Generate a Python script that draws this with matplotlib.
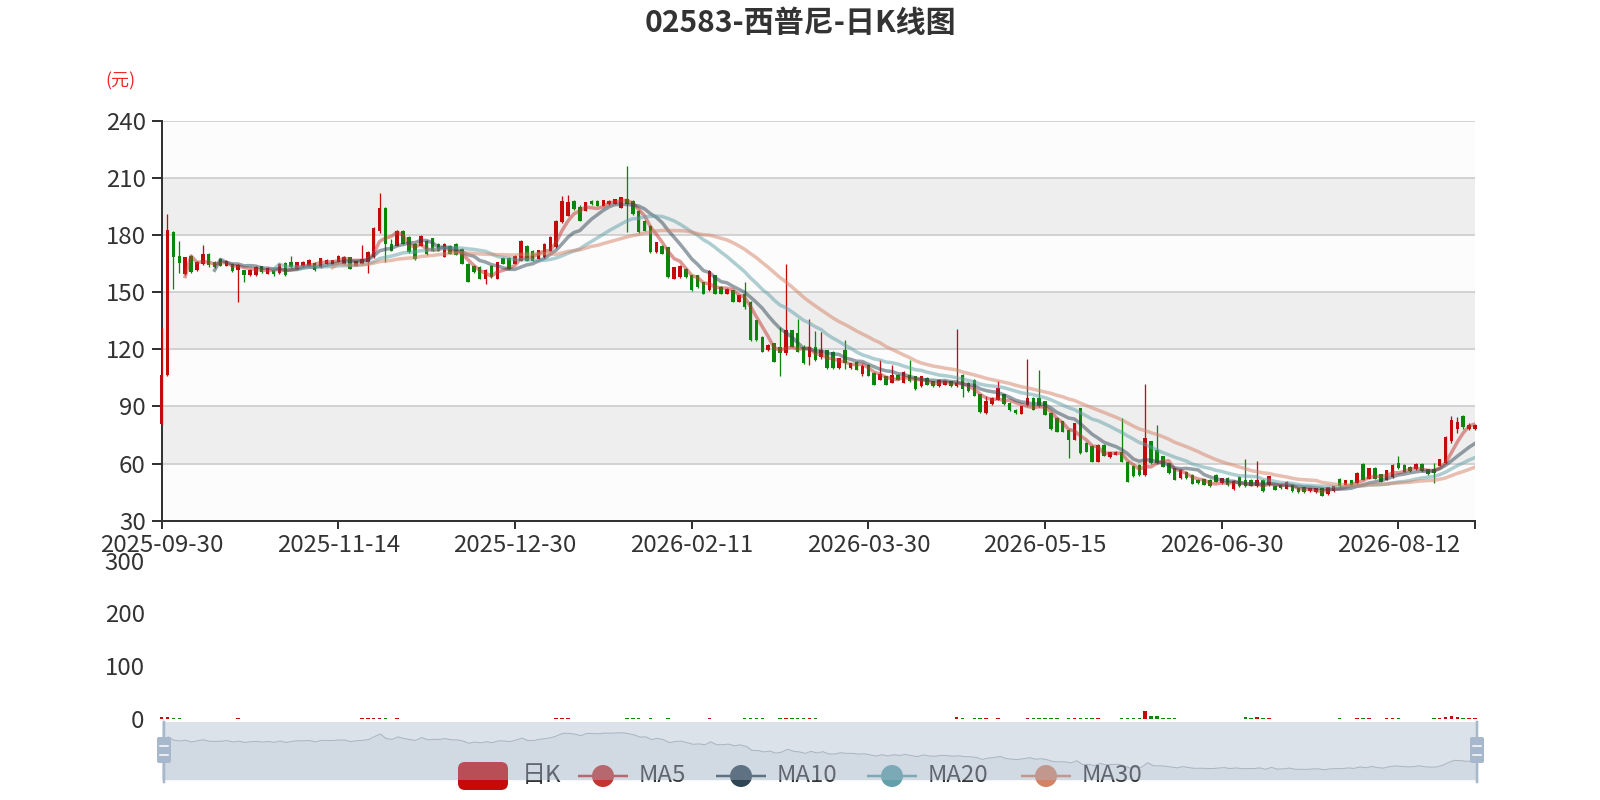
import matplotlib.pyplot as plt
import numpy as np
import pandas as pd
from matplotlib.patches import FancyBboxPatch, Circle

plt.rcParams['font.family'] = ['Noto Sans CJK SC', 'DejaVu Sans']

# 日K数据 (每行10个交易日)
opens = [
    81, 106.7, 181.7, 169, 159.6, 169, 161.3, 164.8, 170, 165.7,
    167.4, 163.9, 164.8, 161.8, 161.3, 158.7, 158.7, 163.4, 159.6, 161.3,
    159.9, 165.1, 165.5, 162.2, 163.6, 163.9, 165.3, 163, 164.8, 164.8,
    165.7, 164.8, 168.3, 163.9, 164.8, 165.5, 168.3, 182.2, 194.3, 175.2,
    174.3, 182.2, 179.1, 175.2, 174.3, 177, 178.3, 175.2, 168.6, 174.3,
    175.2, 172.6, 164.8, 163.9, 163, 157, 163.9, 157, 167.9, 167.9,
    164.8, 166.5, 174.3, 171.7, 167.4, 168.3, 171.7, 173.5, 186.5, 190,
    197.8, 194.8, 192.6, 197.8, 197.8, 195.2, 196.1, 196.4, 194.3, 198.7,
    197.8, 192.6, 187.4, 184.8, 170.9, 174.3, 173.5, 157, 157.8, 162.2,
    158.7, 158.7, 155.2, 150.9, 158.7, 152.6, 149.1, 150.9, 144.8, 149.1,
    144.8, 135.2, 126.5, 119.6, 123, 121.3, 117.8, 130, 128.3, 121.2,
    116, 121.2, 116, 119.5, 118.6, 110, 119.5, 110, 113.5, 107,
    111.8, 107.5, 104, 105.8, 102.3, 106.6, 102.3, 106.6, 105.8, 100.6,
    104.9, 103.2, 100.6, 101.4, 103.2, 100.6, 106.6, 102.3, 104, 96.3,
    86.6, 91.2, 93.5, 96.3, 92, 88.2, 86.1, 90.9, 94.4, 94.4,
    92.6, 86.5, 83.9, 82.1, 77.7, 72.5, 89, 71, 69.3, 61,
    69.8, 63.2, 64.6, 66.3, 61, 58.8, 59.3, 54, 71.6, 67.2,
    63.7, 60.2, 57.5, 52.3, 55.8, 54, 51.4, 51.8, 51.4, 54,
    49.7, 52.6, 46.6, 52.9, 51.6, 51.6, 48, 51.6, 48.6, 48,
    48.9, 46.8, 48.9, 47.1, 47.5, 45.4, 45, 47.1, 43.9, 45.4,
    52.1, 48.9, 51.1, 49.8, 60, 52.1, 57.9, 54.3, 51.6, 52.9,
    60.5, 59.3, 58.2, 57, 60, 57, 57, 58.8, 60.5, 72,
    78, 85, 78, 78,
]
highs = [
    131, 191, 182.2, 177, 168.6, 169.4, 166.2, 174.7, 170.6, 166.1,
    168, 167, 165.2, 164.5, 161.6, 162.2, 163.5, 163.8, 163, 161.6,
    165.1, 165.5, 169, 166, 166.3, 167.1, 165.6, 168, 167.1, 167,
    169.3, 168.9, 168.6, 166.5, 174.7, 171.5, 184, 201.7, 194.6, 178,
    182.5, 182.6, 179.5, 175.6, 179.9, 177.4, 178.6, 175.5, 175.5, 174.6,
    175.5, 173, 165.2, 164.3, 163.4, 162, 164.2, 166, 168.3, 168.2,
    169.4, 177.3, 174.7, 172, 172.3, 175.5, 179.4, 187.7, 200.4, 200.8,
    198.2, 195.4, 197.4, 198.2, 198.1, 198.5, 198.1, 199, 199.9, 216.1,
    198.1, 192.9, 187.7, 185.1, 176.4, 174.6, 173.8, 163.3, 164.2, 162.5,
    159, 159, 155.5, 161.3, 159, 152.9, 152, 151.2, 148.6, 155.2,
    145.1, 135.5, 126.8, 122.5, 123.3, 131.7, 164.8, 130.3, 135.8, 122,
    135.8, 129.8, 128.9, 119.8, 118.9, 115.5, 125, 112.9, 113.8, 112,
    112.1, 107.8, 114.5, 106.1, 111.8, 106.9, 108.3, 114.3, 106.1, 106.1,
    105.2, 103.5, 104.3, 103.5, 103.5, 130.5, 106.9, 102.6, 104.3, 96.6,
    95.5, 94.9, 103.2, 96.6, 92.4, 88.5, 90.3, 114.6, 94.7, 109.3,
    92.9, 86.8, 84.2, 82.4, 78, 81.5, 89.3, 71.3, 69.6, 70.1,
    70.1, 66.3, 66.6, 83.9, 61.3, 59.1, 59.6, 101.9, 71.9, 80.4,
    64, 60.5, 57.8, 57, 56.1, 54.3, 51.7, 52.1, 51.7, 54.3,
    52.6, 53, 51.3, 53.2, 62.3, 51.9, 61.4, 51.9, 53.7, 48.3,
    49.2, 50.7, 49.2, 47.4, 47.8, 47.4, 47.4, 47.4, 47.8, 48.3,
    52.4, 51.4, 51.4, 55.5, 60.3, 57.8, 58.2, 54.6, 56.7, 59.6,
    64.1, 59.6, 58.5, 60.3, 60.3, 57.3, 60.5, 62.6, 74.2, 85,
    84.5, 85.5, 81.3, 80.5,
]
lows = [
    80, 106, 151.7, 160, 159, 160, 161, 164.2, 163.2, 162.5,
    163.4, 163.4, 160.5, 144.8, 155.2, 158.4, 158.4, 160, 159.4, 158.5,
    159.5, 158.2, 162.5, 162, 163.3, 163.5, 161, 162.8, 164.5, 164.5,
    165.5, 164.5, 162, 163.7, 164.5, 160, 168, 181, 166, 171.5,
    174, 175, 170.5, 167, 174, 169.6, 171.4, 171.4, 168.3, 169.7,
    169.3, 164.5, 155, 160.1, 156.7, 154.3, 157.5, 156.6, 164.5, 161.9,
    164.5, 166.2, 166.2, 166.2, 167.1, 168, 171.4, 173.2, 186.2, 189.7,
    193.2, 187.1, 192.3, 195.8, 194.9, 194.9, 195.8, 196.1, 194, 181.3,
    190.6, 181, 181.9, 170.6, 170.6, 169.7, 157.5, 156.7, 157.5, 157.5,
    150.6, 152.3, 148.8, 150.6, 148.8, 148.8, 148.8, 144.5, 144.5, 141.3,
    124.5, 124.5, 118.4, 119.3, 113.2, 105.7, 117, 121, 118.4, 112.3,
    111.8, 114, 115, 109.7, 109.7, 109.7, 109.7, 109.7, 108.9, 105.8,
    105.7, 101, 103.9, 101.1, 102, 103.7, 102, 102.9, 98.6, 100.3,
    101.1, 100.3, 100.3, 101.1, 100.3, 100, 95, 97.7, 95.2, 86.6,
    86, 90.9, 93.2, 90.7, 87.7, 86.2, 85.8, 90, 87.9, 89.7,
    85.3, 77.7, 76.5, 76.5, 62.8, 72.2, 65.1, 66, 60.7, 60.7,
    63.7, 62.9, 64.3, 60.7, 50.2, 52.9, 53.7, 53.7, 59.9, 59.9,
    58.1, 54.6, 51.1, 52, 52, 49, 49.4, 48.5, 47.9, 50.2,
    49.4, 48, 46.3, 47.7, 47.7, 48.1, 47.7, 45.1, 48.3, 45.9,
    46.8, 46.5, 45.1, 44.7, 44.5, 45.1, 44.7, 42.9, 43.6, 45.1,
    47.7, 48.6, 48.6, 49.5, 51.3, 51.8, 51.8, 50.1, 51.3, 52.6,
    57, 55.4, 55.7, 56.7, 55.7, 54, 49.8, 58.5, 60.2, 71,
    76, 78, 77.5, 77.5,
]
closes = [
    106.5, 182.6, 168.3, 165, 168.3, 160.5, 165.7, 170, 164, 163,
    163.9, 166.5, 161, 164, 158.7, 161.8, 163, 160.4, 162.7, 159.2,
    164.8, 158.7, 163, 165.7, 166, 166.8, 161.3, 167.7, 166.8, 166.8,
    169, 168.6, 162.2, 166.2, 167.4, 171, 183.6, 194.3, 175.2, 171.7,
    182.2, 175.2, 170.9, 167.4, 179.6, 170, 171.7, 171.7, 175.2, 170,
    169.6, 164.8, 155.2, 160.4, 157, 161.7, 157.8, 165.7, 164.8, 162.2,
    169.1, 177, 166.5, 166.5, 172, 175.2, 179.1, 187.4, 197.8, 197,
    193.5, 187.4, 197, 196.1, 195.2, 198.2, 197.8, 198.7, 199.6, 196.1,
    190.9, 181.3, 182.2, 170.9, 176.1, 170, 157.8, 163, 163.9, 157.8,
    150.9, 152.6, 149.1, 161, 149.1, 149.1, 151.7, 144.8, 148.3, 142.2,
    124.8, 124.8, 118.7, 122.2, 113.5, 117.8, 130, 121.3, 118.7, 112.6,
    121, 114.3, 119.5, 110, 110, 115.2, 112.6, 112.6, 109.2, 111,
    106, 101.3, 107, 101.4, 106.6, 104, 108, 103.2, 98.9, 105.8,
    101.4, 100.6, 104, 103.2, 100.6, 102.3, 98.9, 98, 95.5, 86.9,
    92.9, 94.6, 99.7, 91, 88, 86.5, 90, 94.4, 88.2, 90,
    85.6, 78, 76.8, 76.8, 72.5, 81.2, 65.4, 66.3, 61, 69.8,
    64, 66, 66.3, 61, 50.5, 53.2, 54, 73.3, 60.2, 60.2,
    58.4, 54.9, 51.4, 56.7, 52.3, 49.3, 49.7, 48.8, 48.2, 50.5,
    52.3, 48.5, 51, 48, 48, 48.4, 51.1, 45.4, 53.4, 46.2,
    47.1, 50.4, 45.4, 45, 44.8, 47.1, 47.1, 43.2, 47.5, 48,
    48, 51.1, 48.9, 55.2, 51.6, 57.5, 52.1, 50.4, 56.4, 59.3,
    57.5, 55.7, 56, 60, 56, 54.3, 55.2, 62.3, 73.9, 83,
    82, 79, 80, 80,
]
volumes = [
    4.5, 3.8, 1.6, 1.0, 0.9, 0.8, 0.7, 0.9, 0.8, 0.6,
    0.6, 0.5, 0.6, 1.2, 0.7, 0.5, 0.6, 0.5, 0.5, 0.4,
    0.6, 0.7, 0.6, 0.5, 0.4, 0.5, 0.5, 0.6, 0.4, 0.4,
    0.5, 0.6, 0.7, 0.5, 1.1, 1.0, 1.6, 2.2, 1.8, 0.9,
    1.0, 0.9, 0.8, 0.7, 0.8, 0.7, 0.6, 0.5, 0.6, 0.5,
    0.5, 0.7, 0.9, 0.6, 0.7, 0.8, 0.6, 0.7, 0.5, 0.5,
    0.6, 0.9, 0.7, 0.5, 0.6, 0.7, 0.8, 1.2, 1.5, 1.1,
    0.7, 0.8, 0.6, 0.5, 0.5, 0.6, 0.5, 0.5, 0.7, 1.8,
    1.0, 1.2, 0.8, 1.1, 0.7, 0.6, 1.3, 0.9, 0.8, 0.7,
    0.9, 0.7, 0.8, 1.0, 0.9, 0.6, 0.5, 0.8, 0.6, 1.1,
    1.6, 1.2, 1.0, 0.7, 0.9, 1.5, 2.8, 1.2, 1.1, 1.0,
    1.3, 1.0, 0.9, 0.8, 0.9, 0.6, 0.9, 0.5, 0.6, 0.7,
    0.6, 0.8, 0.9, 0.6, 0.8, 0.5, 0.7, 0.9, 0.7, 0.6,
    0.5, 0.5, 0.6, 0.5, 0.5, 3.0, 1.2, 0.8, 1.0, 1.4,
    1.1, 0.8, 1.2, 0.9, 0.7, 0.6, 0.8, 2.4, 1.0, 1.8,
    1.1, 1.4, 1.0, 0.9, 1.6, 1.2, 2.5, 1.1, 1.3, 1.2,
    0.9, 0.7, 0.6, 2.8, 1.8, 1.1, 1.0, 16.0, 5.0, 5.2,
    2.2, 1.4, 1.2, 0.9, 0.8, 0.9, 0.6, 0.6, 0.7, 0.8,
    0.9, 0.8, 0.7, 0.9, 3.5, 1.0, 4.2, 1.4, 1.0, 0.6,
    0.5, 0.6, 0.7, 0.5, 0.6, 0.5, 0.5, 0.8, 0.7, 0.6,
    1.6, 0.8, 0.7, 1.2, 1.5, 1.0, 0.9, 0.7, 1.0, 1.3,
    1.8, 0.9, 0.7, 0.8, 0.9, 0.8, 1.5, 1.2, 4.6, 4.8,
    3.2, 2.0, 1.2, 1.0,
]
tick_labels = ['2025-09-30', '2025-11-14', '2025-12-30', '2026-02-11',
               '2026-03-30', '2026-05-15', '2026-06-30', '2026-08-12']
ma_windows = [5, 10, 20, 30]
ma_colors = ['#c23531', '#2f4554', '#61a0a8', '#d48265']

UP = '#c40a0a'
DOWN = '#0a870a'
TXT = '#333333'
PX = 0.72  # 1 px in points at dpi 100

o = np.array(opens)
h = np.array(highs)
l = np.array(lows)
c = np.array(closes)
n = len(c)
x = np.arange(n)
up = c >= o
cols = np.where(up, UP, DOWN)

fig = plt.figure(figsize=(16, 8), dpi=100)
fig.patch.set_facecolor('white')

# 主图: K线
ax = fig.add_axes([161.6 / 1600, 1 - 520.7 / 800, (1475 - 161.6) / 1600, 400.2 / 800])
ax.set_xlim(0, n - 1)
ax.set_ylim(30, 240)
for k, lo in enumerate(range(30, 240, 30)):
    ax.axhspan(lo, lo + 30, color='#fcfcfc' if k % 2 == 0 else '#eeeeee', zorder=0, lw=0)
for v in range(60, 241, 30):
    ax.axhline(v, color='#cccccc', lw=1.7 * PX, zorder=1)

ax.vlines(x, l, h, colors=cols, lw=1.3 * PX, zorder=3, clip_on=False)
ax.bar(x, np.maximum(np.abs(c - o), 0.35), bottom=np.minimum(o, c), width=0.6,
       color=cols, lw=0, zorder=3, clip_on=False)

close_s = pd.Series(c)
for w, col in zip(ma_windows, ma_colors):
    ax.plot(x, close_s.rolling(w).mean(), color=col, lw=3.5 * PX, alpha=0.5, zorder=4)

for s in ['top', 'right']:
    ax.spines[s].set_visible(False)
for s in ['left', 'bottom']:
    ax.spines[s].set_color(TXT)
    ax.spines[s].set_linewidth(2 * PX)
ax.set_yticks(range(30, 241, 30))
ax.set_xticks(range(0, 211, 30))
ax.set_xticklabels(tick_labels)
ax.set_xticks([n - 1], minor=True)
ax.tick_params(axis='y', labelsize=24 * PX, colors=TXT, length=10 * PX, width=2 * PX, pad=6 * PX)
ax.tick_params(axis='x', which='both', labelsize=24 * PX, colors=TXT, length=8 * PX, width=2 * PX, pad=5 * PX)

# 成交量
vax = fig.add_axes([161.6 / 1600, 1 - 719 / 800, (1475 - 161.6) / 1600, 158.4 / 800])
vax.set_xlim(0, n - 1)
vax.set_ylim(0, 300)
vax.bar(x, volumes, width=0.6, color=cols, lw=0, clip_on=False)
for s in vax.spines.values():
    s.set_visible(False)
vax.set_xticks([])
vax.set_yticks([0, 100, 200, 300])
vax.tick_params(axis='y', labelsize=24 * PX, colors=TXT, length=0, pad=17 * PX)
vax.patch.set_alpha(0)

# 数据缩放条 (底图 + 数据阴影)
sl_rect = [162 / 1600, 1 - 780 / 800, 1316 / 1600, 58 / 800]
sax = fig.add_axes(sl_rect, zorder=0.5)
sax.set_xlim(0, n - 1)
sax.set_ylim(0, 245)
sax.fill_between(x, c, 0, color='#2f4554', alpha=0.08, lw=0)
sax.plot(x, c, color='#2f4554', alpha=0.4, lw=1 * PX)
sax.set_axis_off()

# 图例 (像素坐标)
lax = fig.add_axes([0, 0, 1, 1], zorder=1)
lax.set_xlim(0, 1600)
lax.set_ylim(800, 0)
lax.set_axis_off()
lax.patch.set_alpha(0)
ly = 776
lax.add_patch(FancyBboxPatch((458, ly - 14), 50, 28, boxstyle='round,pad=0,rounding_size=7',
                             fc=UP, ec='none'))
lax.text(522, ly, '日K', fontsize=24 * PX, color=TXT, va='center', ha='left')
leg_x = [578, 716, 867, 1021]
for w, col, lx in zip(ma_windows, ma_colors, leg_x):
    lax.plot([lx, lx + 50], [ly, ly], color=col, lw=2.5 * PX, solid_capstyle='butt')
    lax.add_patch(Circle((lx + 25, ly), 11, fc=col, ec='none'))
    lax.text(lx + 61, ly, 'MA%d' % w, fontsize=24 * PX, color=TXT, va='center', ha='left')

# 缩放条覆盖层与手柄
fax = fig.add_axes(sl_rect, zorder=2)
fax.set_xlim(162, 1478)
fax.set_ylim(780, 722)
fax.patch.set_facecolor((167 / 255, 183 / 255, 204 / 255, 0.4))
for s in fax.spines.values():
    s.set_visible(False)
fax.set_xticks([])
fax.set_yticks([])
for hx in [164, 1477]:
    fax.plot([hx, hx], [722, 782], color='#a7b7cc', lw=2.5 * PX, clip_on=False)
    fax.add_patch(FancyBboxPatch((hx - 7, 737), 14, 26, boxstyle='round,pad=0,rounding_size=2',
                                 fc='#a7b7cc', ec='none', clip_on=False))
    for yy in [745.5, 754.5]:
        fax.plot([hx - 4, hx + 4], [yy, yy], color='white', lw=1.5 * PX, clip_on=False)

fig.text(0.5, 1 - 23 / 800, '02583-西普尼-日K线图', ha='center', va='center',
         fontsize=30 * PX, fontweight='bold', color=TXT)
fig.text(120 / 1600, 1 - 81 / 800, '(元)', ha='center', va='center', fontsize=18 * PX, color='#f02828')

fig.savefig('out.png', dpi=100)
